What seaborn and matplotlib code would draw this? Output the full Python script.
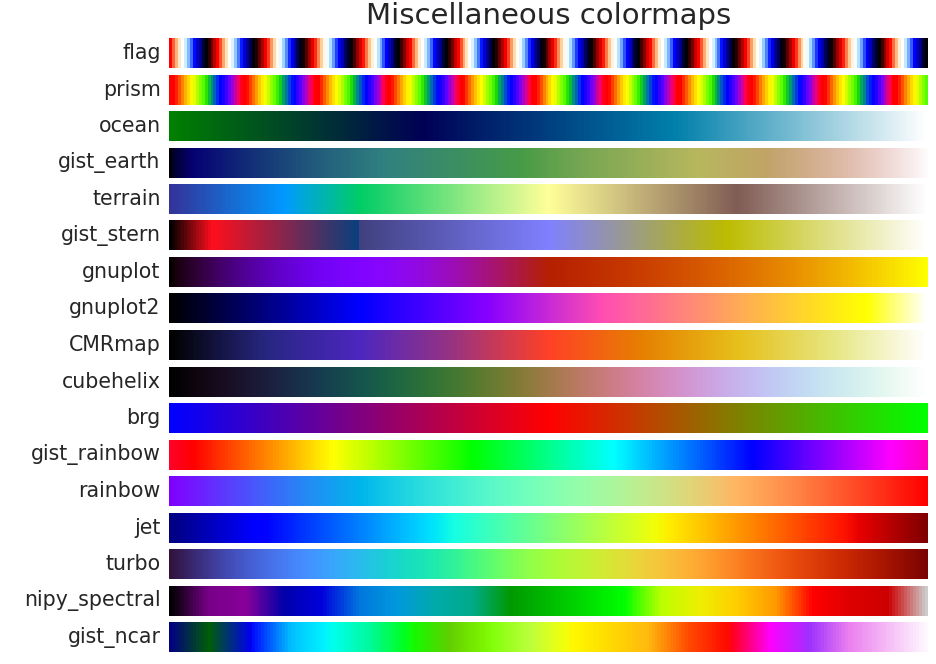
import numpy as np
import matplotlib.pyplot as plt
import seaborn as sns

# Colormap names, top to bottom
cmap_names = ['flag', 'prism', 'ocean', 'gist_earth', 'terrain', 'gist_stern',
              'gnuplot', 'gnuplot2', 'CMRmap', 'cubehelix', 'brg',
              'gist_rainbow', 'rainbow', 'jet', 'turbo', 'nipy_spectral',
              'gist_ncar']
title = 'Miscellaneous colormaps'

# One row of 256 steps, each colormap is drawn across it
gradient = np.linspace(0, 1, 256).reshape(1, -1)

W, H = 937, 664
fig = plt.figure(figsize=(W / 100, H / 100), dpi=100)

top = 38
step = 36.5
bar_h = 30
left = 169
right = 928

for i, name in enumerate(cmap_names):
    y0 = top + i * step
    ax = fig.add_axes([left / W, 1 - (y0 + bar_h) / H, (right - left) / W, bar_h / H])
    sns.heatmap(gradient, cmap=name, vmin=0, vmax=1, cbar=False, ax=ax,
                xticklabels=False, yticklabels=False)
    ax.set_axis_off()
    ax.text(-0.011, 0.5, name, transform=ax.transAxes, ha='right', va='center',
            fontsize=14.8, color='#262626')

fig.text(548.5 / W, 1 - 16 / H, title, ha='center', va='center', fontsize=21, color='#262626')

fig.savefig('out.png', dpi=100)
